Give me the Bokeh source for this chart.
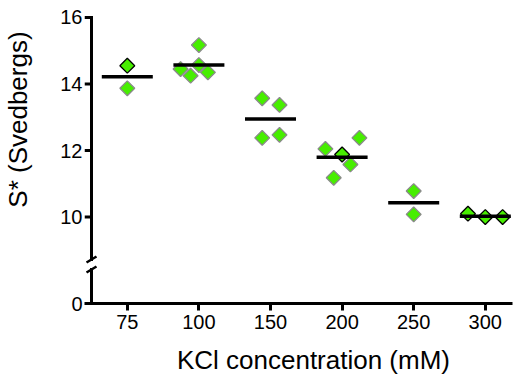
import numpy as np
from bokeh.plotting import figure
from bokeh.models import FixedTicker, Range1d, LinearAxis
from bokeh.embed import file_html
from bokeh.resources import INLINE

# ---- data ----
categories = ["75", "100", "150", "200", "250", "300"]          # KCl (mM)
grey_group  = [0, 1, 1, 1, 1, 1, 2, 2, 2, 2, 3, 3, 3, 3, 4, 4]
grey_jitter = [0, 0, -0.256, -0.116, 0, 0.126, -0.116, 0.126, -0.116, 0.126,
               -0.233, 0.116, -0.117, 0.242, 0, 0]
grey_values = [13.87, 15.17, 14.45, 14.25, 14.57, 14.35, 13.57, 13.37, 12.38, 12.47,
               12.05, 11.58, 11.18, 12.38, 10.78, 10.08]
black_group  = [0, 3, 5, 5, 5]
black_jitter = [0, 0, -0.242, 0, 0.242]
black_values = [14.55, 11.88, 10.10, 10.00, 10.00]
mean_values  = [14.22, 14.57, 12.95, 11.80, 10.43, 10.02]
y_ticks = [10, 12, 14, 16]
y_zero_label = "0"
x_title = "KCl concentration (mM)"
y_title = "S* (Svedbergs)"

# ---- layout constants ----
W, H = 514, 378
FRAME_L, FRAME_R, FRAME_T, FRAME_B = 84, 512, 12, 303
ZERO_POS = 7.4            # where "0" sits on the broken axis
PX_X = 1 / 71.6           # data units per pixel
PX_Y = 1 / 33.26
BREAK_HI = 8.724
BREAK_LO = 8.423
AX = -0.5
X_TITLE_POS = 2.6
Y_TITLE_POS = 12.93
GREEN = "#47ee00"
FONT = "Liberation Sans"

x0 = AX - (91 - FRAME_L) * PX_X
p = figure(width=W, height=H,
           x_range=Range1d(x0, x0 + (FRAME_R - FRAME_L) * PX_X),
           y_range=Range1d(ZERO_POS, ZERO_POS + (FRAME_B - FRAME_T) * PX_Y),
           output_backend="svg", toolbar_location=None,
           min_border_left=FRAME_L, min_border_right=W - FRAME_R,
           min_border_top=FRAME_T, min_border_bottom=H - FRAME_B)
p.grid.visible = False
p.outline_line_color = None
p.background_fill_color = "white"
p.border_fill_color = "white"


def hide_axis_parts(ax):
    ax.axis_line_color = None
    ax.major_tick_line_color = None
    ax.minor_tick_line_color = None
    ax.major_tick_out = 0
    ax.major_tick_in = 0


# x axis
xa = p.xaxis[0]
xa.ticker = FixedTicker(ticks=list(range(len(categories))))
xa.major_label_overrides = {i: c for i, c in enumerate(categories)}
xa.axis_line_width = 3
xa.axis_line_color = "black"
xa.major_tick_line_width = 3
xa.major_tick_line_color = "black"
xa.major_tick_out = 7
xa.major_tick_in = 0
xa.minor_tick_line_color = None
xa.major_label_standoff = 4
xa.major_label_text_font = FONT
xa.major_label_text_font_size = "20px"
xa.major_label_text_color = "black"

# x title (as a single label of an outer axis so it can sit off-centre)
xt = LinearAxis(ticker=FixedTicker(ticks=[X_TITLE_POS]),
                major_label_overrides={X_TITLE_POS: x_title})
hide_axis_parts(xt)
xt.major_label_standoff = 13
xt.major_label_text_font = FONT
xt.major_label_text_font_size = "26px"
xt.major_label_text_color = "black"
p.add_layout(xt, "below")

# y axis (labels only; line and ticks drawn as the broken axis below)
ya = p.yaxis[0]
ya.ticker = FixedTicker(ticks=[ZERO_POS] + y_ticks)
ya.major_label_overrides = {ZERO_POS: y_zero_label}
hide_axis_parts(ya)
ya.major_label_standoff = 2
ya.major_label_text_font = FONT
ya.major_label_text_font_size = "20px"
ya.major_label_text_color = "black"

# y title
yt = LinearAxis(ticker=FixedTicker(ticks=[Y_TITLE_POS]),
                major_label_overrides={Y_TITLE_POS: y_title})
hide_axis_parts(yt)
yt.major_label_orientation = "vertical"
yt.major_label_standoff = 24
yt.major_label_text_font = FONT
yt.major_label_text_font_size = "26px"
yt.major_label_text_color = "black"
p.add_layout(yt, "left")

# broken y axis line
p.segment(x0=[AX, AX], x1=[AX, AX], y0=[BREAK_HI, ZERO_POS], y1=[max(y_ticks), BREAK_LO],
          line_color="black", line_width=3, line_cap="square")
# y ticks
p.segment(x0=[AX - 7 * PX_X] * len(y_ticks), x1=[AX] * len(y_ticks), y0=y_ticks, y1=y_ticks,
          line_color="black", line_width=3)
# break marks
brk = [BREAK_HI, BREAK_LO]
p.segment(x0=[AX - 5 * PX_X] * 2, x1=[AX + 5 * PX_X] * 2,
          y0=[b - 3 * PX_Y for b in brk], y1=[b + 3 * PX_Y for b in brk],
          line_color="black", line_width=2.5)

# diamonds
gx = [g + j for g, j in zip(grey_group, grey_jitter)]
bx = [g + j for g, j in zip(black_group, black_jitter)]
p.scatter(gx, grey_values, marker="square", size=10.5, angle=np.pi / 4,
          fill_color=GREEN, line_color="#8a8a8a", line_width=1.3)
p.scatter(bx, black_values, marker="square", size=10.5, angle=np.pi / 4,
          fill_color=GREEN, line_color="black", line_width=1.3)

# mean lines
idx = list(range(len(categories)))
half = 25.5 * PX_X
p.segment(x0=[i - half for i in idx], x1=[i + half for i in idx], y0=mean_values, y1=mean_values,
          line_color="black", line_width=3.5)

open("out.html", "w").write(file_html(p, INLINE))
